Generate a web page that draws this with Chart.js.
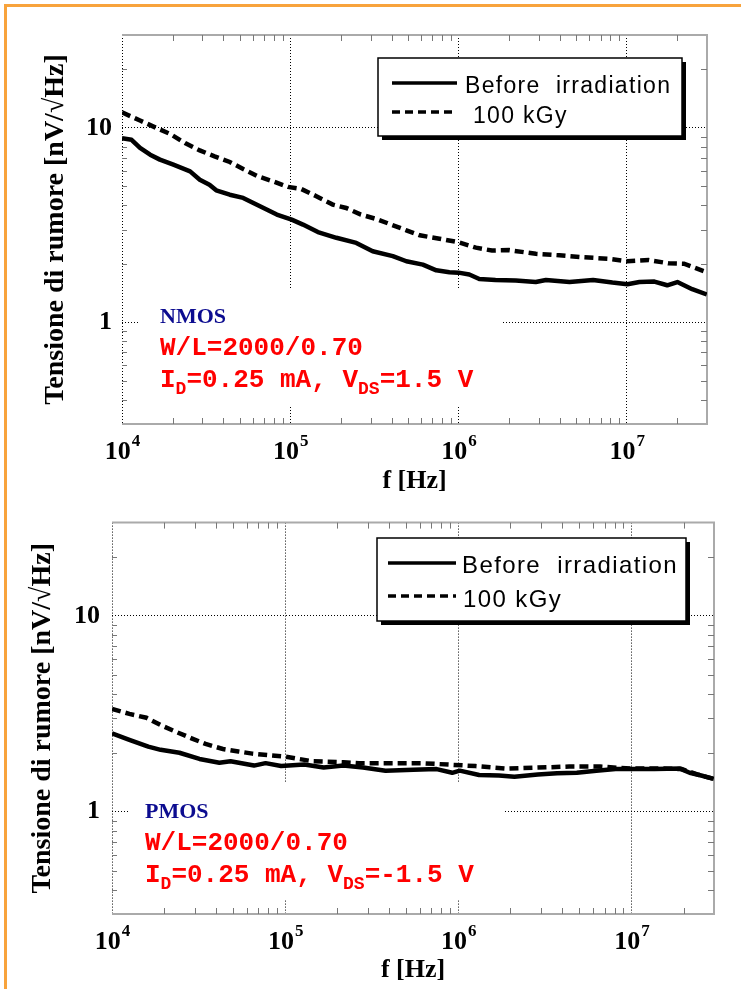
<!DOCTYPE html>
<html><head><meta charset="utf-8">
<script src="https://cdn.jsdelivr.net/npm/chart.js@4.4.1/dist/chart.umd.min.js"></script>
<style>
html,body{margin:0;padding:0;background:#fff;}
body{width:741px;height:989px;position:relative;overflow:hidden;}
#frame{position:absolute;left:4px;top:4px;width:760px;height:1000px;border-top:3px solid #f8a33c;border-left:3px solid #f8a33c;}
canvas{position:absolute;left:0;}
#c1{top:0}
#c2{top:495px}
</style></head><body>
<div id="frame"></div>
<canvas id="c1" width="741" height="495"></canvas>
<canvas id="c2" width="741" height="494"></canvas>
<script>
// ---------- DATA ----------
const seriesLabels = ['Before  irradiation', '100 kGy'];

const nmosBeforeF = [1.0e4,1.14e4,1.28e4,1.47e4,1.68e4,2.02e4,2.54e4,2.90e4,3.31e4,3.63e4,4.37e4,5.25e4,6.61e4,8.32e4,1.02e5,1.19e5,1.46e5,1.88e5,2.47e5,3.09e5,4.07e5,4.90e5,6.14e5,7.38e5,8.83e5,1.0e6,1.16e6,1.33e6,1.66e6,2.19e6,2.88e6,3.31e6,4.57e6,6.31e6,8.22e6,1.01e7,1.19e7,1.46e7,1.74e7,2.0e7,2.45e7,2.99e7];
const nmosBeforeV = [8.85,8.68,7.88,7.27,6.86,6.46,5.97,5.41,5.10,4.77,4.53,4.36,3.95,3.58,3.37,3.18,2.91,2.72,2.56,2.32,2.19,2.06,1.98,1.85,1.81,1.80,1.76,1.67,1.65,1.64,1.61,1.65,1.61,1.65,1.60,1.57,1.61,1.62,1.55,1.61,1.48,1.39];

const nmosAfterF = [1.0e4,1.28e4,1.61e4,1.93e4,2.37e4,2.90e4,3.55e4,4.37e4,5.25e4,6.46e4,7.91e4,9.70e4,1.16e5,1.43e5,1.79e5,2.15e5,2.63e5,3.24e5,3.98e5,4.90e5,5.89e5,7.71e5,1.0e6,1.27e6,1.58e6,2.0e6,2.88e6,3.98e6,5.50e6,7.94e6,1.01e7,1.35e7,1.78e7,2.19e7,2.69e7,2.99e7];
const nmosAfterV = [12.0,10.9,9.96,9.3,8.35,7.65,7.13,6.67,6.14,5.62,5.30,4.97,4.85,4.45,4.03,3.87,3.58,3.40,3.18,2.97,2.80,2.69,2.58,2.42,2.34,2.35,2.25,2.21,2.16,2.12,2.06,2.09,2.01,2.0,1.87,1.81];

const pmosBeforeF = [1.0e4,1.26e4,1.62e4,1.91e4,2.45e4,3.20e4,4.17e4,4.84e4,6.61e4,7.71e4,9.48e4,1.29e5,1.67e5,2.17e5,2.82e5,3.80e5,5.50e5,7.50e5,9.23e5,1.02e6,1.32e6,1.72e6,2.11e6,2.88e6,3.72e6,4.84e6,6.27e6,8.11e6,1.0e7,1.36e7,1.91e7,2.17e7,2.53e7,2.99e7];
const pmosBeforeV = [2.51,2.33,2.15,2.07,2.0,1.86,1.78,1.81,1.72,1.77,1.71,1.74,1.68,1.72,1.68,1.62,1.64,1.65,1.58,1.62,1.54,1.53,1.51,1.55,1.57,1.58,1.62,1.65,1.65,1.65,1.66,1.58,1.53,1.47];

const pmosAfterF = [1.0e4,1.26e4,1.58e4,1.91e4,2.34e4,2.88e4,3.47e4,4.37e4,5.37e4,6.46e4,8.13e4,1.0e5,1.44e5,2.17e5,2.67e5,4.04e5,6.11e5,8.77e5,1.26e6,1.91e6,2.88e6,4.37e6,6.61e6,1.0e7,1.51e7,1.95e7,2.40e7,2.99e7];
const pmosAfterV = [3.35,3.16,3.02,2.77,2.56,2.37,2.22,2.09,2.03,1.98,1.94,1.91,1.81,1.79,1.77,1.77,1.77,1.74,1.71,1.66,1.68,1.70,1.70,1.66,1.66,1.65,1.55,1.47];

const xTicks = [1e4,2e4,3e4,4e4,5e4,6e4,7e4,8e4,9e4,1e5,2e5,3e5,4e5,5e5,6e5,7e5,8e5,9e5,1e6,2e6,3e6,4e6,5e6,6e6,7e6,8e6,9e6,1e7,2e7,3e7];
const yTicks = [0.3,0.4,0.5,0.6,0.7,0.8,0.9,1,2,3,4,5,6,7,8,9,10,20,30];
const xTickValues = [1e4,1e5,1e6,1e7];
const xTickBase = ['10','10','10','10'];
const xTickExp = ['4','5','6','7'];
const yTickValues = [1,10];
const yTickLabels = ['1','10'];
const xTitle = 'f [Hz]';
const yTitle = 'Tensione di rumore [nV/\u221AHz]';

const nmosNote = {
  name: 'NMOS',
  wl: 'W/L=2000/0.70',
  bias: [['I','n'],['D','s'],['=0.25 mA, V','n'],['DS','s'],['=1.5 V','n']]
};
const pmosNote = {
  name: 'PMOS',
  wl: 'W/L=2000/0.70',
  bias: [['I','n'],['D','s'],['=0.25 mA, V','n'],['DS','s'],['=-1.5 V','n']]
};

// ---------- HELPERS ----------
const SERIF = '"Liberation Serif", "Times New Roman", serif';
const SANS = '"Liberation Sans", Arial, sans-serif';
const MONO = '"Liberation Mono", "Courier New", monospace';
const isDecade = v => v != null && Math.abs(Math.log10(v) - Math.round(Math.log10(v))) < 1e-6;
const pts = (F, V) => F.map((f, i) => ({x: f, y: V[i]}));

function makePlugins(cfg) {
  return [{
    id: 'maskFrame',
    beforeDatasetsDraw(chart) {
      const ctx = chart.ctx, a = chart.chartArea, xs = chart.scales.x, ys = chart.scales.y;
      ctx.save();
      ctx.fillStyle = '#fff';
      ctx.fillRect(cfg.mask.x, cfg.mask.y, cfg.mask.w, cfg.mask.h);
      ctx.strokeStyle = '#aaaaaa';
      ctx.lineWidth = 2;
      ctx.beginPath();
      ctx.moveTo(a.left, a.top); ctx.lineTo(a.right, a.top);
      ctx.lineTo(a.right, a.bottom); ctx.lineTo(a.left, a.bottom);
      ctx.stroke();
      ctx.lineWidth = 1;
      ctx.strokeStyle = '#777';
      ctx.beginPath();
      xTicks.forEach(v => {
        if (isDecade(v) || v >= 3e7) return;
        const px = Math.round(xs.getPixelForValue(v)) + 0.5;
        ctx.moveTo(px, a.top); ctx.lineTo(px, a.top + 6);
        ctx.moveTo(px, a.bottom); ctx.lineTo(px, a.bottom - 6);
      });
      yTicks.forEach(v => {
        if (isDecade(v) || v <= 0.3 || v >= 30) return;
        const py = Math.round(ys.getPixelForValue(v)) + 0.5;
        ctx.moveTo(a.left, py); ctx.lineTo(a.left + 5, py);
        ctx.moveTo(a.right, py); ctx.lineTo(a.right - 6, py);
      });
      ctx.stroke();
      ctx.restore();
    },
    afterDatasetsDraw(chart) {
      const ctx = chart.ctx, L = cfg.legend;
      ctx.save();
      ctx.fillStyle = '#000';
      ctx.fillRect(L.x + 4, L.y + 4, L.w, L.h);
      ctx.fillStyle = '#fff';
      ctx.fillRect(L.x, L.y, L.w, L.h);
      ctx.strokeStyle = '#000';
      ctx.lineWidth = 1.5;
      ctx.strokeRect(L.x, L.y, L.w, L.h);
      chart.data.datasets.forEach((ds, i) => {
        const r = L.rows[i];
        ctx.beginPath();
        ctx.setLineDash(ds.legendDash || []);
        ctx.lineWidth = 3.5;
        ctx.strokeStyle = ds.borderColor;
        ctx.moveTo(r.x0, r.ly); ctx.lineTo(r.x1, r.ly);
        ctx.stroke();
        ctx.setLineDash([]);
        ctx.font = L.font;
        ctx.letterSpacing = L.ls;
        ctx.fillStyle = '#000';
        ctx.textBaseline = 'alphabetic';
        ctx.textAlign = 'left';
        ctx.fillText(ds.label, r.tx, r.ty);
      });
      ctx.restore();
    },
    afterDraw(chart) {
      const ctx = chart.ctx, a = chart.chartArea, xs = chart.scales.x;
      ctx.save();
      ctx.textAlign = 'left';
      ctx.textBaseline = 'alphabetic';
      ctx.fillStyle = '#000';
      xTickValues.forEach((v, i) => {
        const px = xs.getPixelForValue(v);
        ctx.font = 'bold 26px ' + SERIF;
        const w1 = ctx.measureText(xTickBase[i]).width;
        ctx.font = 'bold 17px ' + SERIF;
        const w2 = ctx.measureText(xTickExp[i]).width;
        const sx = px - (w1 + w2) / 2;
        ctx.font = 'bold 26px ' + SERIF;
        ctx.fillText(xTickBase[i], sx, a.bottom + 35);
        ctx.font = 'bold 17px ' + SERIF;
        ctx.fillText(xTickExp[i], sx + w1 + 1, a.bottom + 22);
      });
      const N = cfg.note;
      ctx.font = 'bold 22px ' + SERIF;
      ctx.fillStyle = '#0c0c90';
      ctx.fillText(N.text.name, N.x, N.y1);
      ctx.fillStyle = '#ff0000';
      ctx.font = 'bold 26px ' + MONO;
      ctx.fillText(N.text.wl, N.x, N.y2);
      let cx = N.x;
      N.text.bias.forEach(([t, k]) => {
        if (k === 's') {
          ctx.font = 'bold 18px ' + MONO;
          ctx.fillText(t, cx, N.y3 + 7);
        } else {
          ctx.font = 'bold 26px ' + MONO;
          ctx.fillText(t, cx, N.y3);
        }
        cx += ctx.measureText(t).width;
      });
      ctx.restore();
    }
  }];
}

function makeChart(id, F1, V1, F2, V2, layout, cfg) {
  return new Chart(document.getElementById(id), {
    type: 'line',
    data: {
      datasets: [
        {label: seriesLabels[0], data: pts(F1, V1), borderColor: '#000', borderWidth: 4.5,
         pointRadius: 0, tension: 0, fill: false, borderJoinStyle: 'round', legendDash: []},
        {label: seriesLabels[1], data: pts(F2, V2), borderColor: '#000', borderWidth: 4.5,
         borderDash: [9, 5], pointRadius: 0, tension: 0, fill: false, legendDash: [8, 5]}
      ]
    },
    options: {
      responsive: false,
      animation: false,
      devicePixelRatio: 1,
      layout: {padding: {left: 0, right: layout.right, top: layout.top, bottom: 0}},
      plugins: {legend: {display: false}, tooltip: {enabled: false}},
      scales: {
        x: {
          type: 'logarithmic', min: 1e4, max: 3e7,
          afterBuildTicks: s => { s.ticks = xTicks.map(v => ({value: v})); },
          afterFit: s => { s.height = layout.xh; },
          ticks: {display: false, autoSkip: false},
          grid: {drawTicks: false, lineWidth: 1,
                 color: c => (c.tick && isDecade(c.tick.value)) ? '#000' : 'rgba(0,0,0,0)'},
          border: {display: false, dash: [1, 2]},
          title: {display: true, text: xTitle, color: '#000',
                  font: {family: SERIF, size: 26, weight: 'bold', lineHeight: 1},
                  padding: {top: 0, bottom: layout.xtp}}
        },
        y: {
          type: 'logarithmic', min: 0.3, max: 30,
          afterBuildTicks: s => { s.ticks = yTicks.map(v => ({value: v})); },
          afterFit: s => { s.width = layout.yw; },
          ticks: {autoSkip: false, color: '#000', padding: layout.ypad,
                  font: {family: SERIF, size: 26, weight: 'bold'},
                  callback: v => { const i = yTickValues.findIndex(t => Math.abs(t - v) < 1e-9); return i >= 0 ? yTickLabels[i] : ''; }},
          grid: {drawTicks: false, lineWidth: 1,
                 color: c => (c.tick && isDecade(c.tick.value)) ? '#000' : 'rgba(0,0,0,0)'},
          border: {display: false, dash: [1, 2]},
          title: {display: true, text: yTitle, color: '#000',
                  font: {family: SERIF, size: 28, weight: 'bold', lineHeight: 1},
                  padding: {top: layout.ytp, bottom: 0}}
        }
      }
    },
    plugins: makePlugins(cfg)
  });
}

makeChart('c1', nmosBeforeF, nmosBeforeV, nmosAfterF, nmosAfterV,
  {right: 34, top: 35, xh: 71, yw: 122, ypad: 10, xtp: 1, ytp: 42},
  {
    mask: {x: 138, y: 288, w: 364, h: 117},
    legend: {x: 378, y: 58, w: 304, h: 78, font: '23px ' + SANS, ls: '1.3px',
      rows: [{x0: 392, x1: 457, ly: 83, tx: 465, ty: 93}, {x0: 392, x1: 457, ly: 112, tx: 473, ty: 123}]},
    note: {text: nmosNote, x: 160, y1: 323, y2: 355, y3: 387}
  });

makeChart('c2', pmosBeforeF, pmosBeforeV, pmosAfterF, pmosAfterV,
  {right: 27, top: 20, xh: 75, yw: 112, ypad: 12, xtp: 6, ytp: 29},
  {
    mask: {x: 128, y: 288, w: 375, h: 117},
    legend: {x: 377, y: 43, w: 309, h: 83, font: '24px ' + SANS, ls: '1.4px',
      rows: [{x0: 388, x1: 456, ly: 68, tx: 462, ty: 78}, {x0: 388, x1: 456, ly: 101, tx: 463, ty: 112}]},
    note: {text: pmosNote, x: 145, y1: 323, y2: 355, y3: 387}
  });
</script></body></html>
